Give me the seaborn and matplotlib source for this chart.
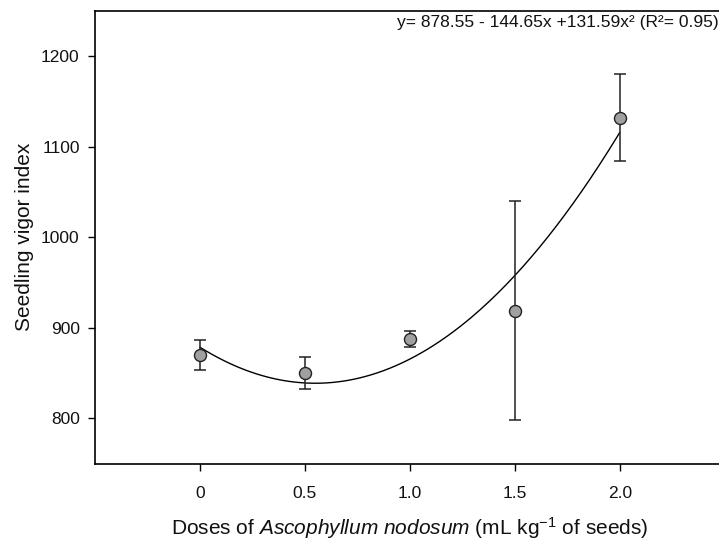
import numpy as np
import pandas as pd
import matplotlib
matplotlib.use("Agg")
import matplotlib.pyplot as plt
import seaborn as sns

# Data
doses = [0.0, 0.5, 1.0, 1.5, 2.0]
vigor = [870, 850, 888, 919, 1132]
err = [16.5, 17.5, 9, 121, 48]
xticks = [0, 0.5, 1.0, 1.5, 2.0]
xticklabels = ["0", "0.5", "1.0", "1.5", "2.0"]
yticks = [800, 900, 1000, 1100, 1200]
# Quadratic fit coefficients (as printed)
b0, b1, b2 = 878.55, -144.65, 131.59
eq_text = "y= 878.55 - 144.65x +131.59x\u00b2 (R\u00b2= 0.95)"

sns.set_theme(style="ticks")
plt.rcParams["font.family"] = ["Liberation Sans", "DejaVu Sans"]
plt.rcParams["mathtext.fontset"] = "custom"
plt.rcParams["mathtext.rm"] = "Liberation Sans"
plt.rcParams["mathtext.it"] = "Liberation Sans:italic"

fig = plt.figure(figsize=(7.19, 5.40), dpi=100)
ax = fig.add_axes([95 / 719, 1 - 463.7 / 540, (724.7 - 95) / 719, (463.7 - 10.7) / 540])

df = pd.DataFrame({"dose": doses, "vigor": vigor, "err": err})
xf = np.linspace(0, 2, 200)
fit = pd.DataFrame({"dose": xf, "vigor": b0 + b1 * xf + b2 * xf ** 2})

sns.lineplot(data=fit, x="dose", y="vigor", ax=ax, color="black", linewidth=1.0, zorder=2)
ax.errorbar(df["dose"], df["vigor"], yerr=df["err"], fmt="none", ecolor="#222222",
            elinewidth=1.1, capsize=4.6, capthick=1.1, zorder=3)
sns.scatterplot(data=df, x="dose", y="vigor", ax=ax, color="#a0a0a0", edgecolor="#222222",
                linewidth=1.0, s=75, zorder=4)

ax.set_xlim(-0.5, 2.5)
ax.set_ylim(750, 1250)
ax.set_xticks(xticks)
ax.set_xticklabels(xticklabels)
ax.set_yticks(yticks)

ax.spines["right"].set_visible(False)
for side in ["left", "bottom", "top"]:
    ax.spines[side].set_color("black")
    ax.spines[side].set_linewidth(1.2)

ax.tick_params(axis="both", direction="out", length=5, width=1.0, color="black",
               labelsize=12.5, labelcolor="#111111")
ax.tick_params(axis="x", pad=11)
ax.tick_params(axis="y", pad=6)

ax.set_ylabel("Seedling vigor index", fontsize=15, color="#111111", labelpad=5)
ax.set_xlabel(r"Doses of $\it{Ascophyllum\ nodosum}$ (mL kg$^{-1}$ of seeds)",
              fontsize=15, color="#111111", labelpad=10)

fig.text(0.9995, 1 - 23 / 540, eq_text, ha="right", va="center", fontsize=12.5, color="#111111")

fig.savefig("out.png", dpi=100)
